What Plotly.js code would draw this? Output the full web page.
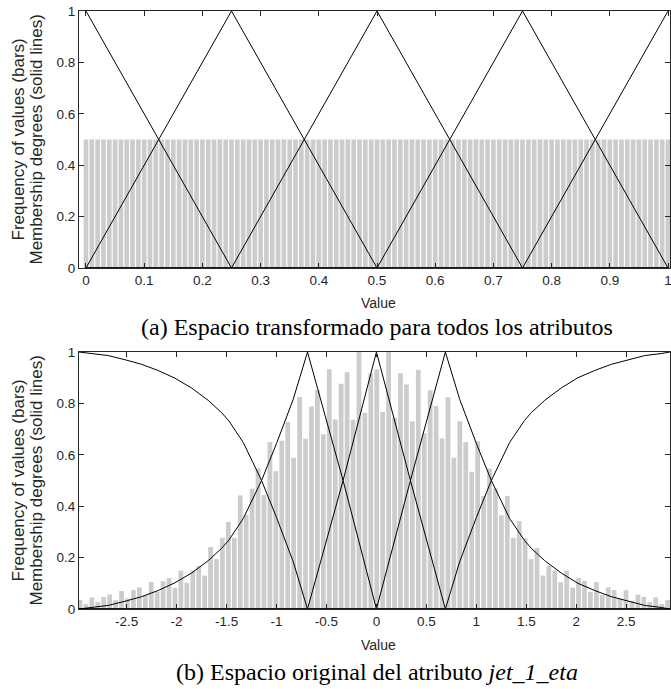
<!DOCTYPE html>
<html><head><meta charset="utf-8">
<script src="https://cdn.plot.ly/plotly-3.0.1.min.js"></script>
<style>html,body{margin:0;padding:0;background:#fff}#chart{width:671px;height:689px}</style>
</head><body><div id="chart"></div>
<script>
// ---- (a) transformed space: histogram of transformed values (uniform) ----
const topBinStart = 0;
const topBinStep = 0.01;
const topFrequency = [
 0.5,0.5,0.5,0.5,0.5,0.5,0.5,0.5,0.5,0.5,
 0.5,0.5,0.5,0.5,0.5,0.5,0.5,0.5,0.5,0.5,
 0.5,0.5,0.5,0.5,0.5,0.5,0.5,0.5,0.5,0.5,
 0.5,0.5,0.5,0.5,0.5,0.5,0.5,0.5,0.5,0.5,
 0.5,0.5,0.5,0.5,0.5,0.5,0.5,0.5,0.5,0.5,
 0.5,0.5,0.5,0.5,0.5,0.5,0.5,0.5,0.5,0.5,
 0.5,0.5,0.5,0.5,0.5,0.5,0.5,0.5,0.5,0.5,
 0.5,0.5,0.5,0.5,0.5,0.5,0.5,0.5,0.5,0.5,
 0.5,0.5,0.5,0.5,0.5,0.5,0.5,0.5,0.5,0.5,
 0.5,0.5,0.5,0.5,0.5,0.5,0.5,0.5,0.5,0.5,
 0.5
];
// fuzzy sets (triangular) in transformed space
const fuzzyCentres = [0, 0.25, 0.5, 0.75, 1];
const fuzzyHalfWidth = 0.25;

// ---- (b) original space of jet_1_eta ----
const etaBinStart = -2.967;
const etaBinStep = 0.0594;
const etaFrequency = [
 0.035,0.019,0.045,0.027,0.047,0.056,0.034,0.070,0.041,0.074,
 0.084,0.054,0.105,0.067,0.108,0.120,0.083,0.149,0.102,0.150,
 0.168,0.130,0.241,0.194,0.277,0.339,0.277,0.442,0.367,0.468,
 0.547,0.443,0.650,0.536,0.655,0.728,0.589,0.825,0.662,0.788,
 0.852,0.680,0.933,0.737,0.876,0.921,0.736,1.000,0.764,0.916,
 0.933,0.767,1.000,0.744,0.917,0.874,0.731,0.931,0.684,0.851,
 0.790,0.663,0.824,0.589,0.731,0.650,0.534,0.653,0.440,0.547,
 0.469,0.365,0.440,0.277,0.342,0.275,0.194,0.238,0.130,0.168,
 0.150,0.104,0.149,0.083,0.120,0.109,0.067,0.105,0.054,0.084,
 0.074,0.041,0.073,0.032,0.056,0.047,0.027,0.045,0.019,0.035
];
// transformed value at points of the original axis
const etaX = [-2.977,-2.85,-2.684,-2.517,-2.35,-2.184,-2.017,-1.85,-1.684,-1.55,-1.477,-1.333,-1.15,-1.0,-0.833,-0.69,-0.334,0,
              0.34,0.69,0.833,1.0,1.15,1.333,1.483,1.55,1.684,1.85,2.017,2.184,2.35,2.517,2.684,2.85,2.938];
const etaTransformed = [0,0.0015,0.0035,0.0075,0.012,0.018,0.0255,0.035,0.047,0.059,0.067,0.088,0.125,0.161,0.204,0.25,0.375,0.5,
              0.625,0.75,0.796,0.839,0.875,0.912,0.9335,0.941,0.953,0.965,0.975,0.982,0.988,0.9925,0.9965,0.9985,1];

// ticks
const topTickVals = [0,0.1,0.2,0.3,0.4,0.5,0.6,0.7,0.8,0.9,1];
const topTickText = ['0','0.1','0.2','0.3','0.4','0.5','0.6','0.7','0.8','0.9','1'];
const etaTickVals = [-2.5,-2,-1.5,-1,-0.5,0,0.5,1,1.5,2,2.5];
const etaTickText = ['-2.5','-2','-1.5','-1','-0.5','0','0.5','1','1.5','2','2.5'];
const yTickVals = [0,0.2,0.4,0.6,0.8,1];
const yTickText = ['0','0.2','0.4','0.6','0.8','1'];

const yTitle1 = 'Frequency of values (bars)';
const yTitle2 = 'Membership degrees (solid lines)';
const xTitle = 'Value';
const captionA = '(a) Espacio transformado para todos los atributos';
const captionB = '(b) Espacio original del atributo <i>jet_1_eta</i>';

// ---- build traces ----
const membership = (t, c) => Math.max(0, 1 - Math.abs(t - c) / fuzzyHalfWidth);
const traces = [];
traces.push({type:'bar', x0: topBinStart, dx: topBinStep, y: topFrequency,
  marker:{color:'#cccccc', line:{width:0}}, xaxis:'x', yaxis:'y', hoverinfo:'skip'});
fuzzyCentres.forEach(c => {
  const pts = [0, c - fuzzyHalfWidth, c, c + fuzzyHalfWidth, 1].filter(v => v >= 0 && v <= 1);
  const xs = [...new Set(pts)].sort((a,b)=>a-b);
  traces.push({type:'scatter', mode:'lines', x: xs, y: xs.map(v => membership(v, c)),
    line:{color:'#000', width:1}, xaxis:'x', yaxis:'y', hoverinfo:'skip'});
});
traces.push({type:'bar', x0: etaBinStart, dx: etaBinStep, y: etaFrequency,
  marker:{color:'#cccccc', line:{width:0}}, xaxis:'x2', yaxis:'y2', hoverinfo:'skip'});
fuzzyCentres.forEach(c => {
  traces.push({type:'scatter', mode:'lines', x: etaX, y: etaTransformed.map(t => membership(t, c)),
    line:{color:'#000', width:1}, xaxis:'x2', yaxis:'y2', hoverinfo:'skip'});
});

const axCommon = {ticks:'inside', ticklen:5, tickwidth:1, tickcolor:'#262626', showline:true,
  linecolor:'#262626', linewidth:1, mirror:'ticks', showgrid:false, zeroline:false,
  tickfont:{size:13.5, color:'#262626'}, tickmode:'array', ticklabeloverflow:'allow'};

const L = 79, R = 670, T = 11, B = 609; // pixel frame of plotting area
const W = R - L, H = B - T;
const px = v => (v - L) / W, py = v => (B - v) / H;
const serif = '"Liberation Serif", "Times New Roman", serif';

const layout = {
  width:671, height:689,
  margin:{l:L, r:671-R, t:T, b:689-B, pad:0},
  paper_bgcolor:'#fff', plot_bgcolor:'#fff', showlegend:false, bargap:0.2,
  font:{family:'"Liberation Sans", Arial, Helvetica, sans-serif', size:13, color:'#262626'},
  xaxis:Object.assign({}, axCommon, {domain:[0,1], anchor:'y', range:[-0.012, 1.0034], tickvals:topTickVals, ticktext:topTickText}),
  yaxis:Object.assign({}, axCommon, {domain:[py(268),1], anchor:'x', range:[0,1], tickvals:yTickVals, ticktext:yTickText}),
  xaxis2:Object.assign({}, axCommon, {domain:[0,1], anchor:'y2', range:[-2.977, 2.938], tickvals:etaTickVals, ticktext:etaTickText}),
  yaxis2:Object.assign({}, axCommon, {domain:[0,py(352)], anchor:'x2', range:[0,1], tickvals:yTickVals, ticktext:yTickText}),
  annotations:[
    {text:yTitle1, xref:'paper', yref:'paper', x:px(18), y:py(139.5), textangle:-90, showarrow:false, xanchor:'center', yanchor:'middle', font:{size:17}},
    {text:yTitle2, xref:'paper', yref:'paper', x:px(36), y:py(139.5), textangle:-90, showarrow:false, xanchor:'center', yanchor:'middle', font:{size:17}},
    {text:yTitle1, xref:'paper', yref:'paper', x:px(18), y:py(480.5), textangle:-90, showarrow:false, xanchor:'center', yanchor:'middle', font:{size:17}},
    {text:yTitle2, xref:'paper', yref:'paper', x:px(36), y:py(480.5), textangle:-90, showarrow:false, xanchor:'center', yanchor:'middle', font:{size:17}},
    {text:xTitle, xref:'paper', yref:'paper', x:px(378), y:py(303), showarrow:false, xanchor:'center', yanchor:'middle', font:{size:14}},
    {text:xTitle, xref:'paper', yref:'paper', x:px(378), y:py(645), showarrow:false, xanchor:'center', yanchor:'middle', font:{size:14}},
    {text:captionA, xref:'paper', yref:'paper', x:px(376.5), y:py(327), showarrow:false, xanchor:'center', yanchor:'middle', font:{family:serif, size:24, color:'#000'}},
    {text:captionB, xref:'paper', yref:'paper', x:px(376.5), y:py(672), showarrow:false, xanchor:'center', yanchor:'middle', font:{family:serif, size:24, color:'#000'}}
  ]
};

Plotly.newPlot('chart', traces, layout, {staticPlot:true, displayModeBar:false});
</script>
</body></html>
